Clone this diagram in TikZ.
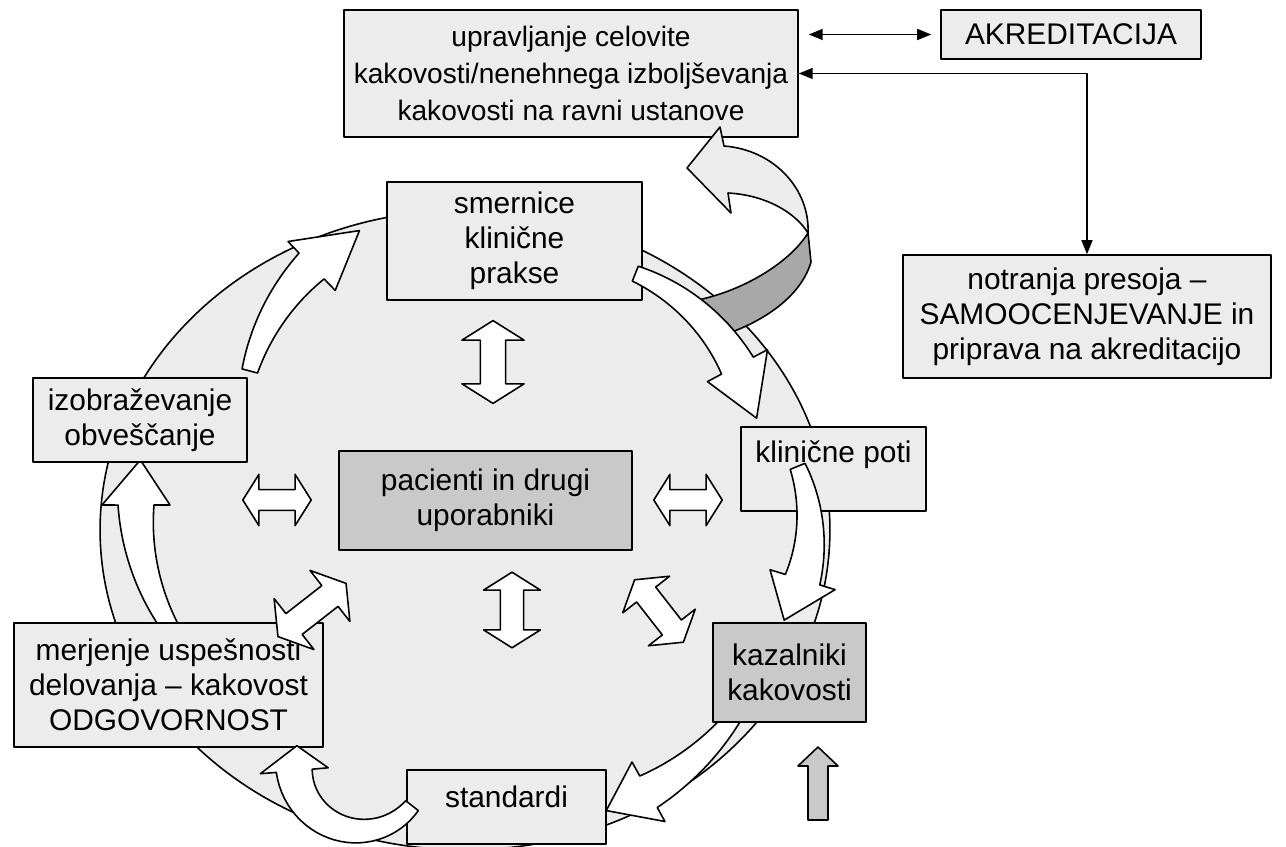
\documentclass[tikz,border=0pt]{standalone}
\usepackage{fontspec}
\setmainfont{Liberation Sans}
\usetikzlibrary{arrows.meta}
\definecolor{svetla}{gray}{0.925}
\definecolor{temna}{gray}{0.79}
\definecolor{trakc}{gray}{0.66}
\newcommand{\krivapus}[5]{%
  \pgfmathsetmacro{\kb}{(#4)-(#5)}%
  \draw[krivblok, shift={#1}]
    plot[domain=0:1, samples=30] ({(#3)+(\kb-(#3))*\x}:{#2+8+10*\x})
    -- (\kb:{#2+34}) -- (#4:#2) -- (\kb:{#2-34})
    -- plot[domain=0:1, samples=30] ({\kb+((#3)-\kb)*\x}:{#2-18+10*\x})
    -- cycle;}
\begin{document}
\begin{tikzpicture}[x=0.02cm, y=-0.02cm, font=\fontsize{17}{20}\selectfont, line join=round,
  >={Triangle[length=0.28cm,width=0.22cm]},
  okvir/.style={draw, fill=svetla, line width=0.9pt, align=center, inner sep=0pt},
  krivblok/.style={draw, fill=white, line width=0.9pt},
  blok/.style={draw, fill=white, line width=0.9pt},
  trak/.style={draw, line width=0.9pt}]
\tikzset{dvojna/.pic={
    \draw[blok] (-36,0) -- (-19,-27) -- (-19,-11) -- (19,-11) -- (19,-27) -- (36,0)
      -- (19,27) -- (19,11) -- (-19,11) -- (-19,27) -- cycle;
}}
\useasboundingbox (0,0) rectangle (1286,847);
\draw[fill=svetla, line width=0.9pt] (465,530) ellipse [x radius=7.3cm, y radius=6.4cm];

\node[okvir, font=\fontsize{16}{21}\selectfont, minimum width=9.08cm, minimum height=2.54cm] (ucel) at (571,73.5) {upravljanje celovite\\kakovosti/nenehnega izboljševanja\\kakovosti na ravni ustanove};
\node[okvir, minimum width=5.2cm, minimum height=0.98cm] (akr) at (1071,34.5) {AKREDITACIJA};
\node[okvir, minimum width=7.36cm, minimum height=2.46cm] (notr) at (1087,316.5) {notranja presoja –\\SAMOOCENJEVANJE in\\priprava na akreditacijo};

\draw[trak, fill=trakc] (808,233) .. controls (790,262) and (745,290) .. (698,300) -- (706,340)
  .. controls (755,328) and (800,300) .. (811,262) -- cycle;
\draw[trak, fill=svetla] (720,127) -- (687,168) -- (731,213) -- (728,193)
  .. controls (765,195) and (795,212) .. (808,233) .. controls (810,190) and (775,150) .. (724,146) -- cycle;

\krivapus{(372,505)}{236}{147}{191}{11}

\node[okvir, minimum width=5.1cm, minimum height=2.36cm] (smer) at (514.5,241) {smernice\\klinične\\prakse};
\node[okvir, minimum width=4.28cm, minimum height=1.68cm] (izob) at (140,420) {izobraževanje\\obveščanje};
\node[okvir, fill=temna, minimum width=5.86cm, minimum height=1.98cm] (paci) at (485.5,500.5) {pacienti in drugi\\uporabniki};
\node[okvir, minimum width=3.7cm, minimum height=1.68cm] (klin) at (833.5,469) {klinične poti\\\mbox{}};
\node[okvir, minimum width=3.98cm, minimum height=1.48cm] (stan) at (506.5,807) {\raisebox{0.4cm}{standardi}};
\node[okvir, minimum width=6.18cm, minimum height=2.48cm] (merj) at (168.5,685) {merjenje uspešnosti\\delovanja – kakovost\\ODGOVORNOST};

\path (493,362) pic[rotate=90, scale=1.15]{dvojna};
\path (512,610) pic[rotate=90, scale=1.05]{dvojna};
\path (277,500) pic[scale=0.95]{dvojna};
\path (688,500) pic[scale=0.95]{dvojna};
\path (312,610) pic[rotate=38, scale=1.2]{dvojna};
\path (659,611) pic[rotate=-52, scale=1.1]{dvojna};

\krivapus{(470,430)}{228}{195}{241}{15}
\krivapus{(560,460)}{201}{-68}{-12}{16}
\krivapus{(640,530)}{170}{-22}{32}{15}
\krivapus{(520,560)}{265}{36}{71}{10}
\krivapus{(360,765)}{66}{38}{197}{22}

\node[okvir, fill=temna, minimum width=3.06cm, minimum height=1.98cm] (kaz) at (789.5,672.5) {kazalniki\\kakovosti};
\draw[blok, fill=temna] (818,747) -- (838,766) -- (828,766) -- (828,820) -- (808,820) -- (808,766) -- (798,766) -- cycle;

\draw[<->, line width=0.9pt, shorten <=0.2cm, shorten >=0.18cm] (ucel.east |- akr.west) -- (akr.west);
\draw[<->, line width=0.9pt] (ucel.east) -| (notr.north);
\end{tikzpicture}
\end{document}
